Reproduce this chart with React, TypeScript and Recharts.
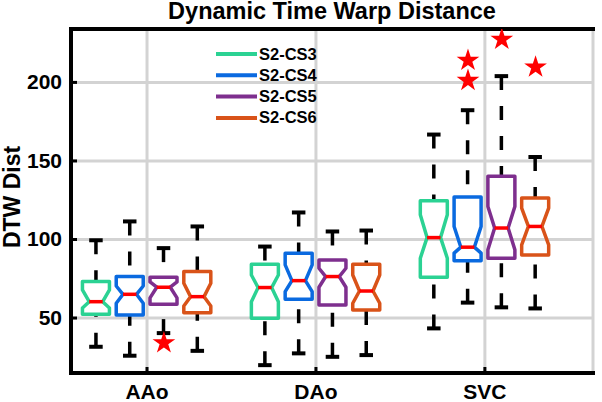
import React from 'react';
import {
  ComposedChart,
  Bar,
  Scatter,
  XAxis,
  YAxis,
  ZAxis,
  CartesianGrid,
  Legend,
  Label,
  ReferenceLine,
} from 'recharts';

const regions = ['AAo', 'DAo', 'SVC'];
const seriesNames = ['S2-CS3', 'S2-CS4', 'S2-CS5', 'S2-CS6'];
const seriesColors = ['#2BD293', '#0A6AE0', '#7E2F8E', '#D95319'];

// one row per region (AAo, DAo, SVC), one column per series (CS3..CS6)
const upperWhisker = [
  [99.5, 111.5, 94.5, 108.3],
  [95.5, 117.2, 105.1, 105.7],
  [166.8, 182.3, 204.0, 152.5],
];
const q3 = [
  [73.2, 76.4, 76.0, 79.6],
  [84.2, 91.3, 87.0, 84.2],
  [124.7, 127.0, 140.2, 126.4],
];
const notchHigh = [
  [67.9, 70.4, 73.0, 72.1],
  [77.4, 83.8, 81.7, 77.4],
  [115.7, 108.3, 121.0, 120.0],
];
const median = [
  [60.4, 65.1, 69.6, 63.6],
  [69.4, 73.8, 76.4, 67.2],
  [101.2, 95.1, 107.3, 108.3],
];
const notchLow = [
  [56.4, 59.4, 62.8, 57.7],
  [60.4, 66.8, 69.6, 59.4],
  [88.1, 91.3, 93.4, 96.6],
];
const q1 = [
  [52.4, 51.9, 58.7, 53.4],
  [49.8, 61.9, 58.3, 55.1],
  [76.0, 86.4, 88.1, 90.2],
];
const lowerWhisker = [
  [31.7, 26.0, 40.4, 29.1],
  [20.0, 27.5, 25.3, 26.4],
  [43.4, 59.8, 56.8, 56.1],
];

// outliers (red stars)
const outlierRegion = [0, 2, 2, 2, 2];
const outlierSeries = [2, 1, 1, 2, 3];
const outlierValue = [34.2, 214.0, 201.2, 227.4, 209.7];

const xTicks = [2.5, 7.5, 12.5];
const yTicks = [50, 100, 150, 200];
const xDomain = [0.25, 15.7];
const yDomain = [15, 234];

const FONT = '"Liberation Sans", Arial, Helvetica, sans-serif';

const boxPos = (r: number, s: number) => r * 5 + s + 1;

const boxData = regions.flatMap((region, r) =>
  seriesNames.map((name, s) => ({
    pos: boxPos(r, s),
    region,
    name,
    color: seriesColors[s],
    range: [lowerWhisker[r][s], upperWhisker[r][s]],
    lo: lowerWhisker[r][s],
    q1: q1[r][s],
    nLo: notchLow[r][s],
    med: median[r][s],
    nHi: notchHigh[r][s],
    q3: q3[r][s],
    hi: upperWhisker[r][s],
  }))
);

const outlierData = outlierValue.map((val, i) => ({
  pos: boxPos(outlierRegion[i], outlierSeries[i]),
  val,
}));

function NotchedBox(props: any) {
  const { x, y, width, height } = props;
  const d = props.payload ?? props;
  const top = Math.min(y, y + height);
  const h = Math.abs(height);
  // bar spans lo..hi, other stats use the same scale
  const toY = (v: number) => top + ((d.hi - v) / (d.hi - d.lo)) * h;
  const cx = x + width / 2;
  const hw = width / 2;
  const L = cx - hw;
  const R = cx + hw;
  const yHi = toY(d.hi);
  const yLo = toY(d.lo);
  const yQ3 = toY(d.q3);
  const yQ1 = toY(d.q1);
  const yNHi = toY(d.nHi);
  const yNLo = toY(d.nLo);
  const yMed = toY(d.med);
  const path =
    `M${L},${yQ3}H${R}V${yNHi}L${cx + hw / 2},${yMed}L${R},${yNLo}V${yQ1}` +
    `H${L}V${yNLo}L${cx - hw / 2},${yMed}L${L},${yNHi}Z`;
  const capW = hw / 2;
  return (
    <g>
      <line x1={cx} y1={yHi} x2={cx} y2={yQ3} stroke="#000" strokeWidth={3.5} strokeDasharray="14 16" />
      <line x1={cx} y1={yLo} x2={cx} y2={yQ1} stroke="#000" strokeWidth={3.5} strokeDasharray="14 16" />
      <line x1={cx - capW} y1={yHi} x2={cx + capW} y2={yHi} stroke="#000" strokeWidth={4} />
      <line x1={cx - capW} y1={yLo} x2={cx + capW} y2={yLo} stroke="#000" strokeWidth={4} />
      <path d={path} fill="none" stroke={d.color} strokeWidth={3.5} strokeLinejoin="round" />
      <line x1={cx - hw / 2} y1={yMed} x2={cx + hw / 2} y2={yMed} stroke="#FF0000" strokeWidth={3.5} />
    </g>
  );
}

function LegendBox() {
  return (
    <svg width={130} height={92}>
      {seriesNames.map((name, i) => {
        const cy = 14 + i * 21.3;
        return (
          <g key={name}>
            <line x1={8} x2={49} y1={cy} y2={cy} stroke={seriesColors[i]} strokeWidth={4} />
            <text x={51} y={cy + 5.5} fontSize={16.5} fontWeight={700} fontFamily={FONT} fill="#000">
              {name}
            </text>
          </g>
        );
      })}
    </svg>
  );
}

function TitleLabel({ viewBox }: any) {
  return (
    <text
      x={viewBox.x + viewBox.width / 2}
      y={viewBox.y - 10}
      textAnchor="middle"
      fontSize={23.5}
      fontWeight={700}
      fontFamily={FONT}
      fill="#000"
    >
      Dynamic Time Warp Distance
    </text>
  );
}

function YTitle({ viewBox }: any) {
  const x = viewBox.x + 20;
  const y = viewBox.y + viewBox.height / 2 - 4;
  return (
    <text
      x={x}
      y={y}
      transform={`rotate(-90, ${x}, ${y})`}
      textAnchor="middle"
      fontSize={23}
      fontWeight={700}
      fontFamily={FONT}
      fill="#000"
    >
      DTW Dist
    </text>
  );
}

function YTick({ x, y, payload }: any) {
  return (
    <text
      x={x}
      y={y}
      dx={-13}
      dy={7}
      textAnchor="end"
      fontSize={21}
      fontWeight={700}
      fontFamily={FONT}
      fill="#000"
    >
      {payload.value}
    </text>
  );
}

const axisLine = { stroke: '#000', strokeWidth: 4, strokeLinecap: 'square' as const };
const tickLine = { stroke: '#000', strokeWidth: 3 };
const tickFont = { fill: '#000', fontSize: 21, fontWeight: 700, fontFamily: FONT };

export default function App() {
  return (
    <div style={{ position: 'absolute', left: 0, top: 0, background: '#fff' }}>
      <ComposedChart
        width={602}
        height={402}
        data={boxData}
        margin={{ top: 28, right: 9, bottom: 0, left: 0 }}
      >
        <CartesianGrid stroke="#d3d3d3" strokeWidth={3} />
        <XAxis
          dataKey="pos"
          type="number"
          domain={xDomain}
          ticks={xTicks}
          interval={0}
          allowDataOverflow
          height={29}
          tickSize={-6}
          tickMargin={17}
          tickLine={tickLine}
          axisLine={axisLine}
          tick={tickFont}
          tickFormatter={(v) => regions[xTicks.indexOf(v)]}
        />
        <XAxis
          xAxisId="top"
          orientation="top"
          type="number"
          domain={xDomain}
          ticks={xTicks}
          interval={0}
          allowDataOverflow
          height={1}
          tickSize={-6}
          tickLine={tickLine}
          axisLine={axisLine}
          tick={false}
        />
        <YAxis
          type="number"
          domain={yDomain}
          ticks={yTicks}
          interval={0}
          allowDataOverflow
          width={71}
          tickSize={-6}
          tickLine={tickLine}
          axisLine={axisLine}
          tick={YTick}
        >
          <Label content={YTitle} />
        </YAxis>
        <YAxis
          yAxisId="right"
          orientation="right"
          type="number"
          domain={yDomain}
          ticks={yTicks}
          interval={0}
          allowDataOverflow
          width={0}
          tickSize={-6}
          tickLine={tickLine}
          axisLine={axisLine}
          tick={false}
        />
        <ZAxis range={[160, 160]} />
        <ReferenceLine
          y={yDomain[1]}
          stroke="#000"
          strokeWidth={4}
          strokeLinecap="square"
          ifOverflow="extendDomain"
          label={<Label content={TitleLabel} />}
        />
        <Bar dataKey="range" barSize={27} shape={NotchedBox} isAnimationActive={false} />
        <Scatter data={outlierData} dataKey="val" fill="#FF0000" shape="star" isAnimationActive={false} />
        <Legend
          layout="horizontal"
          align="center"
          verticalAlign="middle"
          content={() => <LegendBox />}
          wrapperStyle={{ left: 208, top: 40, width: 130, height: 92 }}
        />
      </ComposedChart>
    </div>
  );
}
